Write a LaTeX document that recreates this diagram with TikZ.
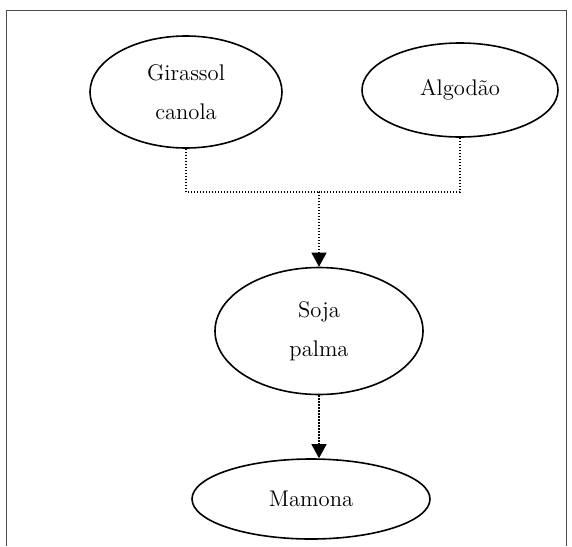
\documentclass[tikz,border=0pt]{standalone}
\usetikzlibrary{arrows.meta, shapes.geometric}
\tikzset{
  every picture/.style={font=\fontsize{11.3}{19.5}\selectfont},
  crop/.style={draw, ellipse, line width=0.8pt, align=center, inner sep=1pt},
  link/.style={line width=0.6pt, dash pattern=on 0.6pt off 0.9pt},
  tip/.style={-{Triangle[length=7pt, width=7.5pt]}},
}

\begin{document}
\begin{tikzpicture}[x=0.5pt, y=-0.5pt]
  \useasboundingbox (0,0) rectangle (572,546);
  % frame, open at the bottom
  \draw[black!70, line width=0.5pt] (6,546) |- (566,10) -- (566,546);
  \node[crop, minimum width=96pt, minimum height=56pt] (gir) at (186,92) {Girassol\\canola};
  \node[crop, minimum width=98pt, minimum height=47pt] (alg) at (460,90) {Algodão};
  \node[crop, minimum width=104pt, minimum height=63.5pt] (soja) at (319,331) {Soja\\palma};
  \node[crop, minimum width=119pt, minimum height=40pt] (mam) at (311,499) {Mamona};
  \coordinate (join) at (319,192);
  \draw[link] (gir.south) |- (join);
  \draw[link] (alg.south) |- (join);
  \draw[link, tip] (join) -- (soja.north);
  \draw[link, tip] (soja.south) -- (soja.south |- mam.north);
\end{tikzpicture}
\end{document}
